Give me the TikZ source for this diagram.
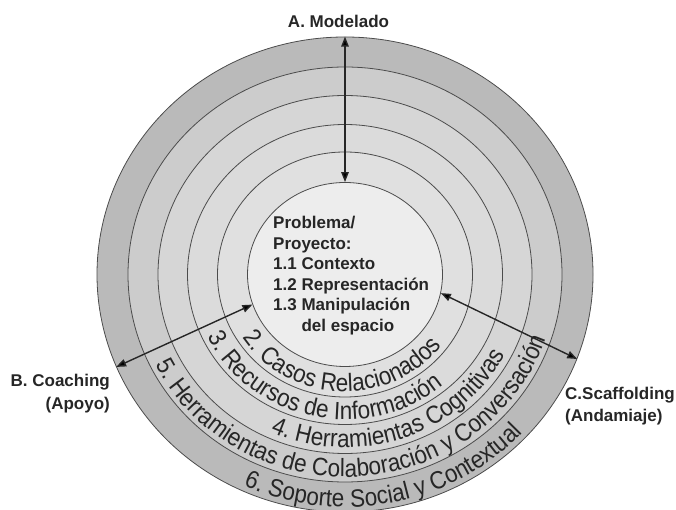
\documentclass[tikz,border=0pt]{standalone}
\usepackage{fontspec}
\setmainfont{Liberation Sans}
\newfontfamily\arcfont[FakeStretch=0.9]{Liberation Sans}
\usetikzlibrary{graphs,positioning,shapes.geometric,arrows.meta,decorations.text}
\definecolor{ringsix}{gray}{0.73}
\definecolor{ringfive}{gray}{0.80}
\definecolor{ringfour}{gray}{0.84}
\definecolor{ringthree}{gray}{0.86}
\definecolor{ringtwo}{gray}{0.88}
\definecolor{ringone}{gray}{0.93}
\definecolor{rimline}{gray}{0.30}
\tikzset{
    ring/.style ={
        shape=ellipse,
        draw=rimline,
        line width=0.8pt,
        inner sep=0pt
    },
    caption/.style ={
        font=\bfseries\fontsize{17}{23}\selectfont,
        text=black!85,
        inner sep=0pt
    },
    ringtext/.style ={
        decorate,
        decoration={
            text along path,
            text align=center,
            text color=black!85,
            text={|\arcfont\fontsize{25}{25}\selectfont|#1}
        }
    },
    arrowlink/.style ={
        line width=1.4pt,
        draw=black!85
    }
}

\begin{document}
\begin{tikzpicture}[x=1pt,y=1pt,>={Triangle[length=10pt,width=7.5pt]}]
    \useasboundingbox (0,0) rectangle (676,510);
    \node[ring, fill=ringsix, minimum width=496pt, minimum height=475pt] (r6) at (345,235.5) {};
    \node[ring, fill=ringfive, minimum width=434pt, minimum height=415pt] (r5) at (345,235.5) {};
    \node[ring, fill=ringfour, minimum width=374pt, minimum height=358pt] (r4) at (345,235.5) {};
    \node[ring, fill=ringthree, minimum width=315pt, minimum height=300pt] (r3) at (345,235.5) {};
    \node[ring, fill=ringtwo, minimum width=255pt, minimum height=245pt] (r2) at (345,235.5) {};
    \node[ring, fill=ringone, minimum width=195pt, minimum height=184pt] (r1) at (345,235.5) {};
    % texts along the rings
    \path[ringtext={2. Casos Relacionados}] (r1.center) ++(177.6:122 and 117)
        arc[start angle=177.6, end angle=357.6, x radius=122, y radius=117];
    \path[ringtext={3. Recursos de Información}] (r1.center) ++(167.6:152 and 145)
        arc[start angle=167.6, end angle=347.6, x radius=152, y radius=145];
    \path[ringtext={4. Herramientas Cognitivas}] (r1.center) ++(199.5:181 and 173)
        arc[start angle=199.5, end angle=379.5, x radius=181, y radius=173];
    \path[ringtext={5. Herramientas de Colaboración y Conversación}] (r1.center) ++(184:212 and 202.5)
        arc[start angle=184, end angle=364, x radius=212, y radius=202.5];
    \path[ringtext={6. Soporte Social y Contextual}] (r1.center) ++(191.5:243 and 232.5)
        arc[start angle=191.5, end angle=371.5, x radius=243, y radius=232.5];
    % base anchor sits on the last line
    \node[caption, align=left, anchor=base west, font=\bfseries\fontsize{17}{20.5}\selectfont] (problema) at (273,178.5)
        {Problema/\\Proyecto:\\1.1 Contexto\\1.2 Representación\\1.3 Manipulación\\\phantom{1.3 }del espacio};
    \node[caption, anchor=base] (modelado) at (338.5,482) {A. Modelado};
    \node[caption, align=right, anchor=base east] (coaching) at (110,100) {B. Coaching\\(Apoyo)};
    \node[caption, align=left, anchor=base west, font=\bfseries\fontsize{17}{22}\selectfont] (scaffolding) at (565,88) {C.Scaffolding\\(Andamiaje)};
    \coordinate (modA) at (r6.north);
    \coordinate (modB) at (r1.north);
    \coordinate (coaA) at (r6.202.7);
    \coordinate (coaB) at (r1.198.5);
    \coordinate (scaA) at (r6.340.4);
    \coordinate (scaB) at (r1.349);
    \graph[edges={arrowlink}]{
        (modA)<->(modB);
        (coaA)<->(coaB);
        (scaA)<->(scaB);
    };
\end{tikzpicture}
\end{document}
